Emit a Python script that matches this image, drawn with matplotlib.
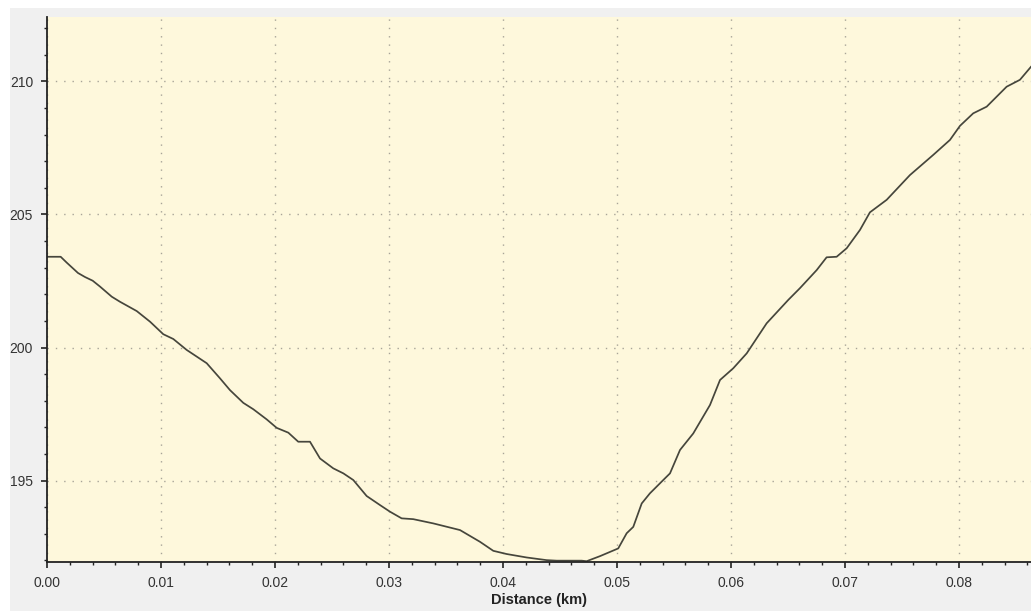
import matplotlib
matplotlib.use("Agg")
import matplotlib.pyplot as plt
from matplotlib.patches import Rectangle
from matplotlib.ticker import MultipleLocator, FormatStrFormatter

plt.rcParams["font.family"] = ["Liberation Sans", "DejaVu Sans"]

# distance (km) and elevation
distance_km = [
    0.0, 0.0012, 0.00173, 0.00272, 0.00333, 0.00401, 0.00465, 0.00568, 0.0064,
    0.00787, 0.00904, 0.0102, 0.01108, 0.01225, 0.01401, 0.01518, 0.01605,
    0.01722, 0.0181, 0.01927, 0.02015, 0.02117, 0.02204, 0.02307, 0.02395,
    0.02511, 0.026, 0.02687, 0.02804, 0.02921, 0.03009, 0.03111, 0.03213,
    0.03389, 0.03623, 0.03798, 0.03915, 0.04032, 0.04208, 0.04383, 0.04471,
    0.0469, 0.04734, 0.04851, 0.05011, 0.05085, 0.05143, 0.05217, 0.05289,
    0.05406, 0.05465, 0.05553, 0.05669, 0.05816, 0.05904, 0.0602, 0.06138,
    0.06313, 0.06503, 0.06605, 0.06752, 0.06839, 0.06927, 0.07015, 0.07132,
    0.07219, 0.07366, 0.0757, 0.07775, 0.07921, 0.08009, 0.08125, 0.08243,
    0.08418, 0.08535, 0.08632,
]
elevation = [
    203.41, 203.41, 203.19, 202.80, 202.65, 202.51, 202.29, 201.91, 201.72,
    201.37, 200.97, 200.50, 200.32, 199.91, 199.41, 198.84, 198.40,
    197.92, 197.68, 197.30, 196.98, 196.80, 196.46, 196.46, 195.83,
    195.46, 195.27, 195.02, 194.42, 194.08, 193.83, 193.58, 193.55,
    193.39, 193.14, 192.70, 192.36, 192.24, 192.11, 192.01, 191.99,
    191.99, 191.97, 192.16, 192.45, 193.02, 193.26, 194.14, 194.52,
    195.02, 195.27, 196.15, 196.77, 197.84, 198.78, 199.22, 199.78,
    200.91, 201.79, 202.23, 202.91, 203.39, 203.41, 203.73, 204.42,
    205.08, 205.55, 206.48, 207.24, 207.80, 208.33, 208.80, 209.05,
    209.80, 210.06, 210.55,
]

W, H = 1031, 611
fig = plt.figure(figsize=(W / 100, H / 100), dpi=100, facecolor="white")
# grey panel behind the chart
fig.patches.append(Rectangle((10 / W, 0), 1, 1 - 8 / H, transform=fig.transFigure,
                             facecolor="#f0f0f0", edgecolor="none", zorder=-10))

ax = fig.add_axes([47 / W, 1 - 562 / H, 1 - 47 / W, (562 - 17) / H])
ax.set_facecolor("#fef8dc")

ax.plot(distance_km, elevation, color="#46463c", lw=1.25)

ax.set_xlim(0, 0.08632)
ax.set_ylim(191.94, 212.42)

ax.xaxis.set_major_locator(MultipleLocator(0.01))
ax.xaxis.set_minor_locator(MultipleLocator(0.002))
ax.xaxis.set_major_formatter(FormatStrFormatter("%.2f"))
ax.yaxis.set_major_locator(MultipleLocator(5))
ax.yaxis.set_minor_locator(MultipleLocator(1))

ax.grid(True, which="major", color="#a8a498", linestyle=(0, (1, 5)), lw=1)

for side in ("top", "right"):
    ax.spines[side].set_visible(False)
for side in ("left", "bottom"):
    ax.spines[side].set_linewidth(1.3)
    ax.spines[side].set_color("#222222")

ax.tick_params(which="major", length=4, width=1.2, color="#222222",
               labelsize=10, labelcolor="#333333", pad=6)
ax.tick_params(which="minor", length=2.5, width=1, color="#222222")

ax.set_xlabel("Distance (km)", fontsize=10.5, fontweight="bold",
              color="#222222", labelpad=2)

fig.savefig("out.png", dpi=100, facecolor=fig.get_facecolor())
